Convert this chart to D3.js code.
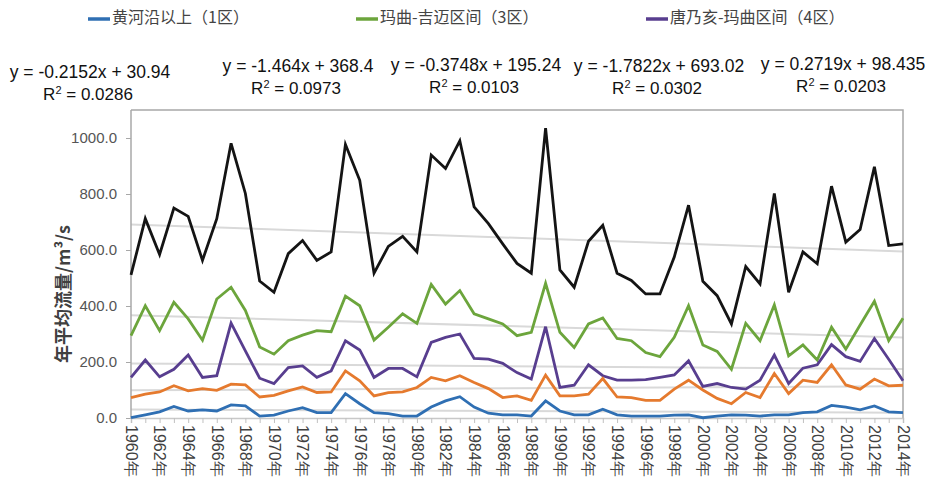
<!DOCTYPE html>
<html>
<head>
<meta charset="utf-8">
<script src="https://cdn.jsdelivr.net/npm/d3@7/dist/d3.min.js"></script>
<style>
  html, body { margin: 0; padding: 0; background: #fff; }
  svg { display: block; }
</style>
</head>
<body>
<svg id="chart" width="925" height="491"></svg>
<script>
// Annual mean discharge per sub-basin, 1960–2014
const years = d3.range(1960, 2015);
const zone1 = [1, 11, 22, 41, 25, 29, 25, 47, 43, 7, 10, 25, 37, 19,
  19, 87, 51, 19, 16, 7, 7, 39, 61, 76, 39, 17, 11, 11,
  7, 61, 25, 11, 11, 31, 11, 7, 7, 7, 10, 11, 1,
  7, 11, 10, 7, 11, 11, 19, 22, 45, 39, 29, 43, 22, 19];
const zone2 = [73, 85, 93, 115, 97, 105, 99, 121, 118, 75, 81, 97, 111, 91,
  93, 168, 133, 79, 91, 93, 109, 145, 133, 151, 127, 105, 73, 79,
  63, 153, 79, 79, 85, 141, 75, 73, 63, 63, 103, 135, 100,
  70, 51, 91, 73, 159, 87, 135, 127, 190, 118, 103, 139, 115, 117];
const zone3 = [294, 401, 312, 413, 354, 278, 425, 467, 384, 254, 228, 276, 296, 312,
  308, 435, 401, 278, 324, 372, 338, 477, 407, 455, 372, 354, 336, 294,
  306, 481, 306, 252, 336, 357, 284, 276, 234, 219, 288, 401, 261,
  238, 174, 338, 276, 404, 222, 261, 207, 324, 246, 332, 417, 276, 356];
const zone4 = [145, 207, 147, 174, 225, 145, 151, 339, 240, 142, 123, 180, 186, 145,
  168, 276, 243, 145, 177, 177, 147, 270, 288, 300, 213, 210, 195, 162,
  139, 326, 109, 117, 190, 151, 135, 135, 137, 145, 154, 204, 113,
  123, 109, 103, 135, 225, 123, 178, 190, 262, 219, 202, 284, 210, 133];
const total = [511, 712, 584, 750, 720, 563, 712, 981, 802, 489, 449, 587, 634, 563,
  593, 977, 849, 517, 613, 649, 593, 939, 891, 990, 754, 694, 622, 552,
  517, 1035, 529, 467, 631, 688, 517, 491, 443, 443, 575, 760, 488,
  437, 336, 541, 479, 802, 449, 593, 551, 828, 628, 673, 897, 616, 622];

// Linear trend fits (x = 1 for 1960)
const slopes = [-0.2152, -1.464, -0.3748, -1.7822, 0.2719];
const intercepts = [30.94, 368.4, 195.24, 693.02, 98.435];
const r2 = ["0.0286", "0.0973", "0.0103", "0.0302", "0.0203"];

const yTicks = [0, 200, 400, 600, 800, 1000];
const legendNames = ["黄河沿以上（1区）", "玛曲-吉迈区间（3区）", "唐乃亥-玛曲区间（4区）"];

const series = [
  { values: total, color: "#141414" },
  { values: zone3, color: "#6ca53c" },
  { values: zone4, color: "#583e8f" },
  { values: zone2, color: "#e57a2e" },
  { values: zone1, color: "#2f6fb3" }
];
const legendColors = ["#2f6fb3", "#6ca53c", "#583e8f"];

const svg = d3.select("#chart");
const plotL = 131, plotR = 903, plotT = 110, plotB = 418;

const x = d3.scaleLinear().domain([1960, 2014]).range([plotL, plotR]);
const y = d3.scaleLinear().domain([0, 1100]).range([plotB, plotT]);

// trend lines (drawn beneath the data)
const trendG = svg.append("g");
slopes.forEach((m, k) => {
  const b = intercepts[k];
  trendG.append("line")
    .attr("x1", x(1960)).attr("x2", x(2014))
    .attr("y1", y(m * 1 + b)).attr("y2", y(m * 55 + b))
    .attr("stroke", "#d9d9d9").attr("stroke-width", 2);
});

// plot frame
svg.append("path")
  .attr("d", `M${plotL},${plotT}H${plotR}V${plotB}`)
  .attr("fill", "none").attr("stroke", "#a8a8a8").attr("stroke-width", 1.5);

// y axis
const yAxis = svg.append("g")
  .attr("transform", `translate(${plotL},0)`)
  .call(d3.axisLeft(y).tickValues(yTicks).tickFormat(d3.format(".1f")).tickSize(5).tickPadding(9));
yAxis.select(".domain").attr("stroke", "#a8a8a8").attr("stroke-width", 1.5).attr("d", `M0,${plotT}V${plotB}`);
yAxis.selectAll(".tick line").attr("stroke", "#a8a8a8");
yAxis.selectAll(".tick text")
  .attr("font-family", "'Liberation Sans', Arial, sans-serif")
  .attr("font-size", 15).attr("fill", "#555");

// x axis
const xAxis = svg.append("g")
  .attr("transform", `translate(0,${plotB})`)
  .call(d3.axisBottom(x).tickValues(years).tickSize(5).tickFormat(d => (d % 2 === 0 ? d + "年" : "")));
xAxis.select(".domain").attr("stroke", "#c8c8c8").attr("stroke-width", 1.5);
xAxis.selectAll(".tick line").attr("stroke", "#c0c0c0");
xAxis.selectAll(".tick text")
  .attr("font-family", "'Liberation Sans', Arial, sans-serif")
  .attr("font-size", 16).attr("fill", "#404040")
  .attr("text-anchor", "start")
  .attr("dy", "0.35em")
  .attr("transform", "translate(0,7) rotate(90)")
  .attr("x", 0).attr("y", 0);

// series lines
const line = d3.line().x((d, i) => x(years[i])).y(d => y(d));
series.forEach(s => {
  svg.append("path")
    .datum(s.values)
    .attr("d", line)
    .attr("fill", "none")
    .attr("stroke", s.color)
    .attr("stroke-width", 2.8)
    .attr("stroke-linejoin", "miter");
});

// y axis title
svg.append("text")
  .attr("transform", "translate(65,294) rotate(-90)")
  .attr("text-anchor", "middle")
  .attr("dominant-baseline", "middle")
  .attr("font-family", "'Noto Sans CJK SC', sans-serif")
  .attr("font-weight", "bold")
  .attr("font-size", 18)
  .attr("fill", "#404040")
  .text("年平均流量/m³/s");

// legend
const legendX = [88, 356, 646];
legendNames.forEach((name, k) => {
  const g = svg.append("g").attr("transform", `translate(${legendX[k]},19)`);
  g.append("line").attr("x1", 0).attr("x2", 22).attr("y1", 0).attr("y2", 0)
    .attr("stroke", legendColors[k]).attr("stroke-width", 3.5);
  g.append("text").attr("x", 24).attr("y", 0)
    .attr("dominant-baseline", "middle")
    .attr("font-family", "'Noto Sans CJK SC', sans-serif")
    .attr("font-size", 16).attr("fill", "#444")
    .text(name);
});

// trend equations
const eqX = [90, 298, 476, 659, 843];
const eqY = [78, 72, 71, 72, 70];
const fmt = v => (v < 0 ? "-" + Math.abs(v) : String(v));
slopes.forEach((m, k) => {
  svg.append("text")
    .attr("x", eqX[k]).attr("y", eqY[k])
    .attr("text-anchor", "middle")
    .attr("font-family", "'Liberation Sans', Arial, sans-serif")
    .attr("font-size", 17.5).attr("fill", "#111")
    .text(`y = ${fmt(m)}x + ${intercepts[k]}`);
  const r = svg.append("text")
    .attr("x", eqX[k] - 2).attr("y", eqY[k] + 22)
    .attr("text-anchor", "middle")
    .attr("font-family", "'Liberation Sans', Arial, sans-serif")
    .attr("font-size", 17).attr("fill", "#111");
  r.append("tspan").text("R");
  r.append("tspan").attr("font-size", 11).attr("dy", -6).text("2");
  r.append("tspan").attr("dy", 6).text(` = ${r2[k]}`);
});
</script>
</body>
</html>
